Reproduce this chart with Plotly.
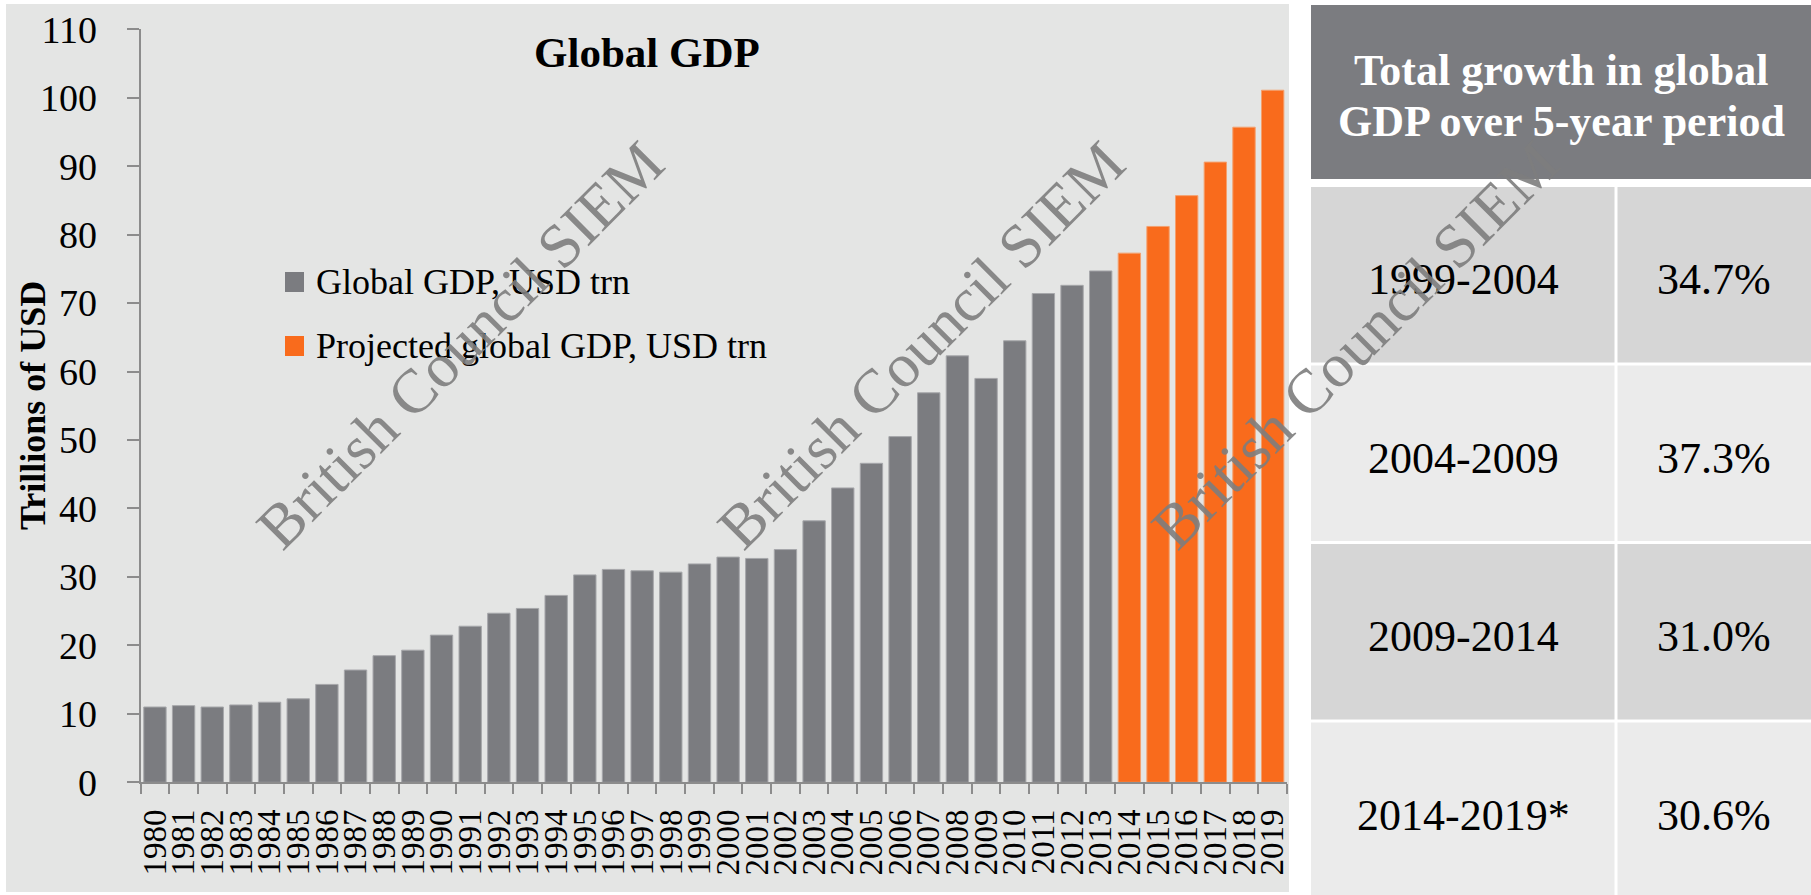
import plotly.graph_objects as go

W, H = 1811, 895

# ---- data ----
years = [str(y) for y in range(1980, 2020)]
hist_years = years[:34]
proj_years = years[34:]
hist_gdp = [11.0, 11.2, 11.0, 11.3, 11.7, 12.2, 14.3, 16.4, 18.5, 19.3,
            21.5, 22.8, 24.7, 25.4, 27.3, 30.3, 31.1, 30.9, 30.7, 31.9,
            32.9, 32.7, 34.0, 38.2, 43.0, 46.6, 50.5, 56.9, 62.3, 59.0,
            64.5, 71.4, 72.6, 74.7]
proj_gdp = [77.3, 81.2, 85.7, 90.6, 95.7, 101.1]
y_ticks = list(range(0, 111, 10))

series_names = ["Global GDP, USD trn", "Projected global GDP, USD trn"]
periods = ["1999-2004", "2004-2009", "2009-2014", "2014-2019*"]
growth = ["34.7%", "37.3%", "31.0%", "30.6%"]
table_title = ["Total growth in global", "GDP over 5-year period"]

# ---- styling ----
GREY = "#7b7c80"
ORANGE = "#f96b1c"
PANEL = "#e4e5e4"
AXIS = "#8c8c8c"
SERIF = "Liberation Serif, Times New Roman, serif"


def px(x):
    return x / W


def py(y):
    return 1 - y / H


fig = go.Figure()
fig.add_trace(go.Bar(x=hist_years, y=hist_gdp, name=series_names[0],
                     marker=dict(color=GREY, line=dict(color="#a6a7aa", width=1)),
                     showlegend=False))
fig.add_trace(go.Bar(x=proj_years, y=proj_gdp, name=series_names[1],
                     marker=dict(color=ORANGE, line=dict(color="#f4a06e", width=1)),
                     showlegend=False))

shapes = []
annotations = []

# chart panel background
shapes.append(dict(type="rect", xref="paper", yref="paper", layer="below",
                   x0=px(6), x1=px(1289), y0=py(892), y1=py(4),
                   fillcolor=PANEL, line=dict(width=0)))

# legend (square swatches + labels)
legend_rows = [(282, GREY), (346, ORANGE)]
for (cy, col), label in zip(legend_rows, series_names):
    shapes.append(dict(type="rect", xref="paper", yref="paper",
                       x0=px(285), x1=px(304), y0=py(cy + 10), y1=py(cy - 10),
                       fillcolor=col, line=dict(width=0)))
    annotations.append(dict(xref="paper", yref="paper", x=px(314), y=py(cy),
                            xanchor="left", yanchor="middle", showarrow=False,
                            text=label, font=dict(family=SERIF, size=36, color="black")))

# chart title and y-axis title
annotations.append(dict(xref="paper", yref="paper", x=px(647), y=py(52),
                        xanchor="center", yanchor="middle", showarrow=False,
                        text="<b>Global GDP</b>",
                        font=dict(family=SERIF, size=43, color="black")))
annotations.append(dict(xref="paper", yref="paper", x=px(33), y=py(406),
                        xanchor="center", yanchor="middle", showarrow=False,
                        textangle=-90, text="<b>Trillions of USD</b>",
                        font=dict(family=SERIF, size=36, color="black")))

# growth table
TX0, TDIV, TX1 = 1311, 1616, 1811
shapes.append(dict(type="rect", xref="paper", yref="paper",
                   x0=px(TX0), x1=px(TX1), y0=py(179), y1=py(5),
                   fillcolor=GREY, line=dict(width=0)))
for line_y, txt in zip([70, 121], table_title):
    annotations.append(dict(xref="paper", yref="paper", x=px((TX0 + TX1) / 2), y=py(line_y),
                            xanchor="center", yanchor="middle", showarrow=False,
                            text="<b>" + txt + "</b>",
                            font=dict(family=SERIF, size=44, color="white")))

row_top = 187
row_step = 178.5
row_h = 175.5
for i, (per, g) in enumerate(zip(periods, growth)):
    top = row_top + i * row_step
    bot = min(top + row_h, H)
    fill = "#d6d6d6" if i % 2 == 0 else "#ebebeb"
    shapes.append(dict(type="rect", xref="paper", yref="paper",
                       x0=px(TX0), x1=px(TDIV - 1.5), y0=py(bot), y1=py(top),
                       fillcolor=fill, line=dict(width=0)))
    shapes.append(dict(type="rect", xref="paper", yref="paper",
                       x0=px(TDIV + 1.5), x1=px(TX1), y0=py(bot), y1=py(top),
                       fillcolor=fill, line=dict(width=0)))
    cy = (top + top + row_h) / 2 + 5
    annotations.append(dict(xref="paper", yref="paper", x=px((TX0 + TDIV) / 2), y=py(cy),
                            xanchor="center", yanchor="middle", showarrow=False,
                            text=per, font=dict(family=SERIF, size=44, color="black")))
    annotations.append(dict(xref="paper", yref="paper", x=px((TDIV + TX1) / 2), y=py(cy),
                            xanchor="center", yanchor="middle", showarrow=False,
                            text=g, font=dict(family=SERIF, size=44, color="black")))

# diagonal watermark text
for wx in [460, 921, 1355]:
    annotations.append(dict(xref="paper", yref="paper", x=px(wx), y=py(345),
                            xanchor="center", yanchor="middle", showarrow=False,
                            textangle=-45, text="British Council SIEM",
                            font=dict(family=SERIF, size=62, color="rgba(125,125,125,0.9)")))

fig.update_layout(
    width=W, height=H, autosize=False,
    margin=dict(l=0, r=0, t=0, b=0, pad=0, autoexpand=False),
    paper_bgcolor="white", plot_bgcolor="rgba(0,0,0,0)",
    barmode="overlay", bargap=0.22,
    shapes=shapes, annotations=annotations,
    xaxis=dict(domain=[px(140.6), px(1287)], type="category",
               categoryorder="array", categoryarray=years,
               tickmode="array", tickvals=years, ticktext=years,
               showline=True, linecolor=AXIS, linewidth=2,
               ticks="outside", tickson="boundaries", ticklen=10,
               tickcolor=AXIS, tickwidth=2, tickangle=-90,
               ticklabelstandoff=12, automargin=False,
               tickfont=dict(family=SERIF, size=33, color="black"),
               showgrid=False, zeroline=False, fixedrange=True),
    yaxis=dict(domain=[py(782.3), py(29.3)], range=[0, 110],
               tickmode="array", tickvals=y_ticks,
               showline=True, linecolor=AXIS, linewidth=2,
               ticks="outside", ticklen=12, tickcolor=AXIS, tickwidth=2,
               ticklabelstandoff=22, automargin=False,
               tickfont=dict(family=SERIF, size=38, color="black"),
               showgrid=False, zeroline=False, fixedrange=True),
)

fig.write_html("out.html")
